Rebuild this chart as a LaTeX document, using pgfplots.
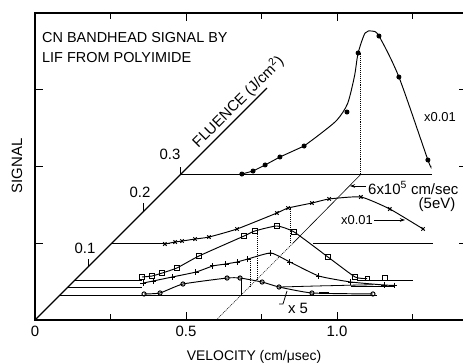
\documentclass[border=0pt]{standalone}
\usepackage{fontspec}
\setmainfont{Liberation Sans}
\usepackage{pgfplots}
\pgfplotsset{compat=1.18}
\usetikzlibrary{arrows.meta}
\begin{document}
\begin{tikzpicture}
\path[use as bounding box] (0,0) rectangle (463bp,-363bp);
\begin{axis}[
  at={(35bp,-320bp)}, anchor=south west,
  scale only axis, width=431.86bp, height=307bp,
  xmin=0, xmax=1.43, ymin=0, ymax=4,
  xtick={0,0.5,1}, xticklabels={0,0.5,1.0},
  minor xtick={0.25,0.75,1.25},
  ytick={1,2,3}, yticklabels={},
  major tick length=8bp, minor tick length=6bp,
  every tick/.style={line width=0.9bp, black},
  axis line style={line width=1.1bp},
  clip=false,
  cycle list={{black, mark=none}},
  /pgf/number format/assume math mode=true,
  xticklabel style={font=\fontsize{15}{15}\selectfont, yshift=-3bp},
  every axis plot/.append style={black, line width=0.95bp},
]
% fluence axis
\addplot[line width=1.3bp] coordinates {(0,0) (0.768,3.022)};
% baselines
\addplot[] coordinates {(0.483,1.902) (1.315,1.902)};
\addplot[] coordinates {(0.254,1.0) (0.447,1.0)};
\addplot[] coordinates {(0.921,1.0) (1.318,1.0)};
\addplot[] coordinates {(0.132,0.521) (0.354,0.521)};
\addplot[] coordinates {(1.066,0.521) (1.252,0.521)};
\addplot[] coordinates {(0.109,0.430) (0.354,0.430)};
\addplot[] coordinates {(1.046,0.440) (1.192,0.440)};
\addplot[] coordinates {(0.083,0.326) (1.132,0.326)};
% 6x10^5 cm/sec line
\addplot[densely dotted, line width=0.6bp] coordinates {(0.6,0) (0.854,1.0)};
\addplot[line width=0.6bp] coordinates {(0.854,1.0) (1.08,1.902)};
\addplot[densely dotted, line width=0.6bp] coordinates {(1.076,1.902) (1.076,3.48)};
\addplot[densely dotted, line width=0.6bp] coordinates {(0.844,1.0) (0.844,1.46)};
\addplot[densely dotted, line width=0.6bp] coordinates {(0.735,0.521) (0.735,1.16)};
\addplot[densely dotted, line width=0.6bp] coordinates {(0.712,0.430) (0.712,0.79)};
\addplot[line width=0.7bp] coordinates {(0.682,0.326) (0.682,0.547)};
% top series (x0.01)
\addplot[mark=*, mark size=2bp] coordinates {(0.685,1.902)(0.722,1.941)(0.762,2.020)(0.811,2.124)(0.891,2.267)};
\addplot[smooth, tension=0.45] coordinates {(0.891,2.267)(0.944,2.423)(1.000,2.606)(1.035,2.820)(1.058,3.180)(1.070,3.479)(1.093,3.739)(1.116,3.765)(1.139,3.700)(1.205,3.166)(1.301,2.085)(1.311,2.007)};
\addplot[only marks, mark=*, mark size=2bp] coordinates {(1.033,2.710)(1.070,3.479)(1.139,3.700)(1.205,3.166)(1.301,2.085)};
% x series (x0.01)
\addplot[smooth, tension=0.3, mark=x, mark size=2.4bp] coordinates {(0.430,0.990)(0.464,1.016)(0.487,1.029)(0.530,1.055)(0.576,1.081)(0.669,1.186)(0.801,1.394)(0.838,1.459)(0.917,1.524)(0.974,1.577)(1.079,1.603)(1.175,1.446)(1.285,1.186)};
% square series
\addplot[smooth, tension=0.3, mark=square, mark size=2.2bp, mark options={fill=white}] coordinates {(0.354,0.560)(0.387,0.573)(0.421,0.612)(0.470,0.678)(0.543,0.834)(0.692,1.094)(0.728,1.160)(0.801,1.225)(0.858,1.147)(0.970,0.821)(1.060,0.560)(1.100,0.540)};
\addplot[only marks, mark=square, mark size=2.2bp, mark options={fill=white}] coordinates {(1.159,0.547)};
% + series
\addplot[smooth, tension=0.3, mark=+, mark size=2.8bp] coordinates {(0.358,0.482)(0.391,0.508)(0.454,0.560)(0.533,0.625)(0.589,0.704)(0.632,0.730)(0.669,0.756)(0.705,0.795)(0.781,0.873)(0.844,0.756)(0.940,0.573)(1.046,0.495)(1.156,0.456)(1.190,0.450)};
% o series
\addplot[smooth, tension=0.3, mark=o, mark size=2.1bp, mark options={fill=white}] coordinates {(0.361,0.339)(0.414,0.352)(0.490,0.469)(0.636,0.547)(0.679,0.547)(0.752,0.495)(0.808,0.430)(0.917,0.352)(1.119,0.339)};
\addplot[line width=0.8bp] coordinates {(0.808,0.430)(0.95,0.445)(1.12,0.46)};
\addplot[line width=1.8bp] coordinates {(0.94,0.350)(0.975,0.350)};
\end{axis}
\begin{scope}[x=1bp,y=-1bp, every node/.style={inner sep=0pt}]
\node[anchor=west, font=\fontsize{14.5}{15}\selectfont] at (42,38) {CN BANDHEAD SIGNAL BY};
\node[anchor=west, font=\fontsize{14.5}{15}\selectfont] at (42,58) {LIF FROM POLYIMIDE};
\node[rotate=90, font=\fontsize{15}{15}\selectfont] at (17,166) {SIGNAL};
\node[font=\fontsize{14}{15}\selectfont] at (254,357) {VELOCITY (cm/μsec)};
\node[rotate=45, font=\fontsize{15}{15}\selectfont] at (238,102) {FLUENCE (J/cm\textsuperscript{2})};
\node[font=\fontsize{15}{15}\selectfont] at (85,248) {0.1};
\node[font=\fontsize{15}{15}\selectfont] at (140,192) {0.2};
\node[font=\fontsize{15}{15}\selectfont] at (170,154) {0.3};
\node[anchor=west, font=\fontsize{15}{15}\selectfont] at (368,188) {6x10\textsuperscript{5} cm/sec};
\node[font=\fontsize{15}{15}\selectfont] at (437,205) {(5eV)};
\node[font=\fontsize{13}{15}\selectfont] at (357,220) {x0.01};
\node[font=\fontsize{13}{15}\selectfont] at (440,117) {x0.01};
\node[font=\fontsize{15}{15}\selectfont] at (298,308) {x 5};
\draw[line width=0.8bp, -{Stealth[length=5bp,width=3.5bp]}] (366,186) -- (350,186);
\draw[line width=0.8bp, -{Stealth[length=5bp,width=3.5bp]}] (374,220) -- (405,220);
\draw[line width=0.8bp] (279,304) -- (283,304) -- (287,291);
\draw[line width=0.9bp] (88,267) -- (88,259);
\draw[line width=0.9bp] (143,212) -- (143,203);
\draw[line width=0.9bp] (180,175) -- (180,167);
\end{scope}
\end{tikzpicture}
\end{document}
